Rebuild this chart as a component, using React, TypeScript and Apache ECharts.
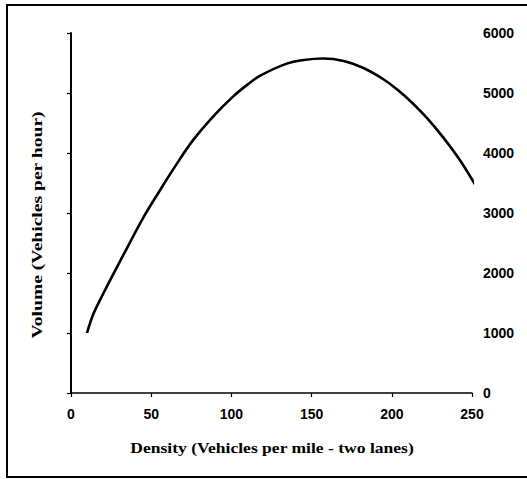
import React, { useEffect, useRef } from "react";
import * as echarts from "echarts";

// Traffic flow: volume vs. density on a two-lane road
const density = [10, 14, 20, 28.5, 35, 45, 55.5, 64, 76, 89, 101, 110, 118, 134.5, 145, 157, 170, 182, 195, 203, 213, 222, 232, 242.5, 252];
const volume = [1000, 1320, 1650, 2090, 2420, 2920, 3380, 3740, 4210, 4620, 4940, 5140, 5290, 5490, 5550, 5575, 5535, 5420, 5225, 5065, 4830, 4580, 4260, 3880, 3470];

const xTicks = [0, 50, 100, 150, 200, 250];
const yTicks = [0, 1000, 2000, 3000, 4000, 5000, 6000];

const xTitle = "Density (Vehicles per mile - two lanes)";
const yTitle = "Volume (Vehicles per hour)";

const tickFont = { fontFamily: "Liberation Sans", fontWeight: "bold" as const, fontSize: 14, color: "#000" };

export default function App() {
  const ref = useRef<HTMLDivElement>(null);

  useEffect(() => {
    if (!ref.current) return;
    const chart = echarts.init(ref.current, undefined, { renderer: "svg" });
    const points = density.map((d, i) => [d, volume[i]]);
    const plain = (v: number) => String(v);
    chart.setOption({
      animation: false,
      backgroundColor: "#fff",
      grid: { left: 71, right: 55, top: 33, bottom: 86 },
      xAxis: {
        type: "value",
        min: xTicks[0],
        max: xTicks[xTicks.length - 1],
        interval: 50,
        axisLine: { show: true, lineStyle: { color: "#000", width: 1.5 } },
        axisTick: { show: true, length: 4, lineStyle: { color: "#000", width: 1.2 } },
        axisLabel: { ...tickFont, margin: 14, formatter: plain },
        splitLine: { show: false },
      },
      yAxis: [
        {
          type: "value",
          min: yTicks[0],
          max: yTicks[yTicks.length - 1],
          interval: 1000,
          position: "left",
          axisLine: { show: true, lineStyle: { color: "#000", width: 2 } },
          axisTick: { show: true, length: 4, lineStyle: { color: "#000", width: 1.2 } },
          axisLabel: { show: false },
          splitLine: { show: false },
        },
        {
          type: "value",
          min: yTicks[0],
          max: yTicks[yTicks.length - 1],
          interval: 1000,
          position: "right",
          axisLine: { show: false },
          axisTick: { show: false },
          axisLabel: { ...tickFont, margin: 11, formatter: plain },
          splitLine: { show: false },
        },
      ],
      graphic: [
        {
          type: "rect",
          shape: { x: 7, y: 5, width: 530, height: 472 },
          style: { fill: "none", stroke: "#000", lineWidth: 2 },
          silent: true,
        },
        {
          type: "text",
          x: 272,
          y: 448,
          scaleX: 1.17,
          style: {
            text: xTitle,
            font: "bold 15px 'Liberation Serif'",
            fill: "#000",
            align: "center",
            verticalAlign: "middle",
          },
        },
        {
          type: "text",
          x: 37,
          y: 225,
          rotation: Math.PI / 2,
          scaleX: 1.4,
          style: {
            text: yTitle,
            font: "bold 14px 'Liberation Serif'",
            fill: "#000",
            align: "center",
            verticalAlign: "middle",
          },
        },
      ],
      series: [
        {
          type: "line",
          data: points,
          yAxisIndex: 0,
          smooth: 0.4,
          clip: false,
          showSymbol: false,
          lineStyle: { color: "#000", width: 2.6 },
        },
      ],
    });
    return () => chart.dispose();
  }, []);

  return <div ref={ref} style={{ position: "fixed", left: 0, top: 0, width: 527, height: 479 }} />;
}
